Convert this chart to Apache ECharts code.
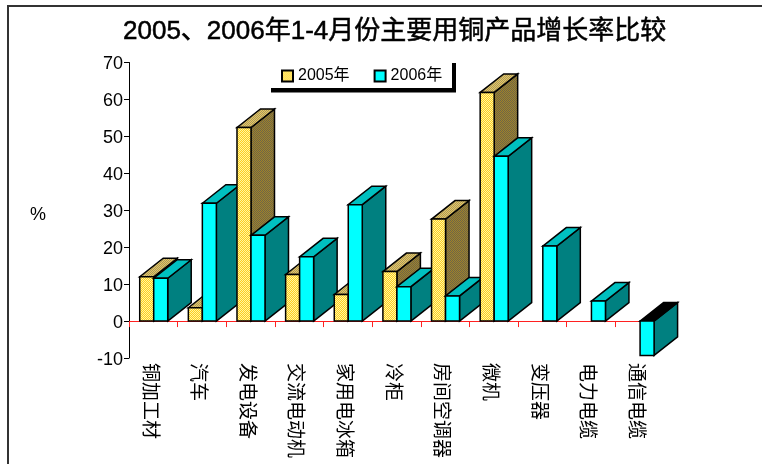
<!DOCTYPE html>
<html><head><meta charset="utf-8">
<style>html,body{margin:0;padding:0;background:#fff}#c{width:762px;height:464px}</style>
<script src="https://cdn.jsdelivr.net/npm/echarts@6/dist/echarts.min.js"></script>
</head><body><div id="c"></div>
<script>
const titleText = '2005、2006年1-4月份主要用铜产品增长率比较';
const categories = ['铜加工材','汽车','发电设备','交流电动机','家用电冰箱','冷柜','房间空调器','微机','变压器','电力电缆','通信电缆'];
const seriesNames = ['2005年','2006年'];
const values2005 = [12, 3.6, 52.4, 12.6, 7.2, 13.4, 27.6, 61.9, null, null, null];
const values2006 = [11.6, 31.9, 23.2, 17.4, 31.5, 9.3, 6.8, 44.6, 20.3, 5.4, -9.3];
const unitLabel = '%';

const FONT = '"Liberation Sans","Noto Sans CJK SC",sans-serif';
function dither(a, b) {
  const c = document.createElement('canvas'); c.width = 2; c.height = 2;
  const g = c.getContext('2d');
  g.fillStyle = a; g.fillRect(0, 0, 2, 2);
  g.fillStyle = b; g.fillRect(0, 0, 1, 1); g.fillRect(1, 1, 1, 1);
  return { image: c, repeat: 'repeat' };
}
const styles = [
  { front: dither('#ffcc20', '#fff8a0'), top: dither('#e8c860', '#a89860'), side: dither('#a08428', '#6e6448') },
  { front: '#00ffff', top: '#00c0c0', side: '#008080' }
];
const DX = 23.5, DY = -18.5, W = 14;
function makeRender(sIdx) {
  return function (params, api) {
    const cat = api.value(0), v = api.value(1);
    if (v == null || isNaN(v)) return;
    const pv = api.coord([cat, v]), p0 = api.coord([cat, 0]);
    const x0 = p0[0] + 0.4 - W + sIdx * W, x1 = x0 + W;
    const yTop = Math.min(pv[1], p0[1]), yBot = Math.max(pv[1], p0[1]);
    const st = styles[sIdx];
    const z2 = cat * 2 + sIdx + 1;
    const line = { stroke: '#000', lineWidth: 1.5, lineJoin: 'miter' };
    const poly = (points, fill) => ({
      type: 'polygon', z2, shape: { points },
      style: Object.assign({ fill }, line)
    });
    return {
      type: 'group',
      children: [
        poly([[x1, yBot], [x1 + DX, yBot + DY], [x1 + DX, yTop + DY], [x1, yTop]], st.side),
        poly([[x0, yTop], [x0 + DX, yTop + DY], [x1 + DX, yTop + DY], [x1, yTop]], v < 0 ? '#000' : st.top),
        poly([[x0, yTop], [x1, yTop], [x1, yBot], [x0, yBot]], st.front)
      ]
    };
  };
}
const toRows = arr => arr.map((v, i) => [i, v]);
const chart = echarts.init(document.getElementById('c'), null, { renderer: 'canvas' });
chart.setOption({
  animation: false,
  backgroundColor: '#fff',
  title: {
    text: titleText, left: 118, top: 14,
    textStyle: { fontFamily: FONT, fontSize: 26, fontWeight: 'normal', color: '#000', textBorderColor: '#000', textBorderWidth: 0.5 }
  },
  legend: {
    left: 281, top: 68, itemWidth: 11, itemHeight: 11, itemGap: 24,
    data: seriesNames, icon: 'rect',
    textStyle: { fontFamily: FONT, fontSize: 16, color: '#000' },
    padding: 0, z: 20
  },
  grid: { left: 129, top: 62.5, width: 535, height: 295.5, outerBoundsMode: 'none' },
  xAxis: {
    type: 'category', data: categories,
    axisLine: { onZero: true, lineStyle: { color: '#ff2020', width: 1 } },
    axisTick: { show: true, inside: false, length: 6, alignWithLabel: false, lineStyle: { color: '#ff2020', width: 1 } },
    axisLabel: {
      interval: 0, rotate: -90, margin: 5, fontFamily: FONT, fontSize: 19, color: '#000',
      formatter: v => '{a|' + v + '}',
      rich: { a: { fontFamily: FONT, fontSize: 19, color: '#000', padding: [9, 0, 0, 0] } }
    },
    splitLine: { show: false }
  },
  yAxis: {
    type: 'value', min: -10, max: 70, interval: 10,
    axisLine: { show: true, lineStyle: { color: '#000', width: 1 } },
    axisTick: { show: true, length: 5, lineStyle: { color: '#000', width: 1 } },
    axisLabel: {
      margin: 6, fontFamily: FONT, fontSize: 18, color: '#000',
      formatter: v => '{a|' + v + '}',
      rich: { a: { fontFamily: FONT, fontSize: 18, color: '#000', padding: [4, 0, 0, 0] } }
    },
    splitLine: { show: false }
  },
  series: [
    { name: seriesNames[0], type: 'custom', renderItem: makeRender(0), data: toRows(values2005), clip: false,
      encode: { x: 0, y: 1 }, itemStyle: { color: styles[0].front, borderColor: '#000', borderWidth: 1.5 } },
    { name: seriesNames[1], type: 'custom', renderItem: makeRender(1), data: toRows(values2006), clip: false,
      encode: { x: 0, y: 1 }, itemStyle: { color: styles[1].front, borderColor: '#000', borderWidth: 1.5 } }
  ],
  graphic: [
    { type: 'rect', left: 7, top: 5, shape: { width: 800, height: 2 }, style: { fill: '#333' } },
    { type: 'rect', left: 7, top: 5, shape: { width: 2, height: 500 }, style: { fill: '#333' } },
    { type: 'rect', left: 271, top: 88, z: 15, shape: { width: 185, height: 4.5 }, style: { fill: '#000' } },
    { type: 'rect', left: 452, top: 63, z: 15, shape: { width: 4, height: 29 }, style: { fill: '#000' } },
    { type: 'text', left: 30, top: 206, style: { text: unitLabel, font: '18px ' + FONT, fill: '#000' } }
  ]
});
</script></body></html>
